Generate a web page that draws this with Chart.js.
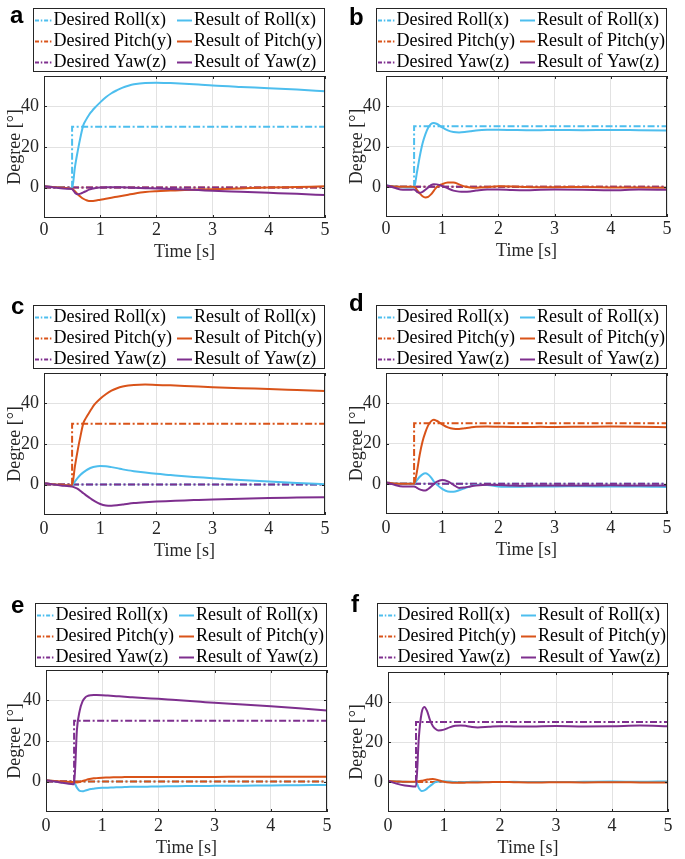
<!DOCTYPE html>
<html>
<head>
<meta charset="utf-8">
<script src="https://cdn.jsdelivr.net/npm/chart.js@4.4.0/dist/chart.umd.min.js"></script>
<style>
  body { margin: 0; background: #fff; width: 685px; height: 859px; overflow: hidden; position: relative; }
  canvas { position: absolute; }
</style>
</head>
<body>
<script>
// --- data ---
const axisNames = ['Roll(x)', 'Pitch(y)', 'Yaw(z)'];
const panelLetters = ['a', 'b', 'c', 'd', 'e', 'f'];
const stepAxis = [0, 0, 1, 1, 2, 2];   // which axis gets the 30 deg command

const xTicks = [0, 1, 2, 3, 4, 5];
const yTicks = [0, 20, 40];
const yMin = -15, yMax = 55;

// desired (step) signals
const tStep = [0, 0.5, 0.5, 5];
const stepOn = [0, 0, 30, 30];
const stepOff = [0, 0, 0, 0];

// sample times for the measured responses
const tRes = [0, 0.15, 0.3, 0.45, 0.5, 0.55, 0.6, 0.65, 0.7, 0.75, 0.8, 0.85, 0.9, 1.0, 1.1,
              1.2, 1.3, 1.4, 1.5, 1.6, 1.8, 2.0, 2.25, 2.5, 2.75, 3.0, 3.5, 4.0, 4.5, 5.0];

const rollA  = [0.7, 0.3, 0, -0.4, -0.5, 10, 18, 25, 30.8, 33.5, 35.8, 37.6, 39.2, 42, 44.5, 46.5, 48, 49.3, 50.2, 50.9, 51.6, 51.7, 51.5, 51.2, 50.8, 50.3, 49.6, 49, 48.3, 47.5];
const pitchA = [0.7, 0.3, 0, -0.4, -0.6, -1.8, -3.3, -4.5, -5.5, -6.2, -6.6, -6.6, -6.5, -6.0, -5.5, -5.0, -4.5, -4.0, -3.5, -3.0, -2.2, -1.8, -1.5, -1.2, -1.0, -0.8, -0.4, 0, 0.3, 0.6];
const yawA   = [0.7, 0.2, -0.3, -0.6, -0.8, -2.5, -3.3, -3.0, -2.4, -1.7, -1.0, -0.6, -0.3, 0, 0.1, 0.2, 0.2, 0.1, 0, -0.1, -0.3, -0.5, -0.7, -0.95, -1.25, -1.6, -2.1, -2.6, -3.1, -3.7];

const rollB  = [0.7, 0.2, -0.2, -0.3, -0.3, 7, 15, 21.5, 26, 29.3, 31.2, 31.7, 31.3, 29.5, 28, 27.2, 27, 27.2, 27.6, 28, 28.3, 28.3, 28.2, 28.1, 28.1, 28.2, 28.1, 28.2, 28.1, 28];
const pitchB = [0.5, 0.2, 0, 0, 0, -1.5, -3.3, -4.7, -5.3, -5, -3.8, -2, -0.2, 1.3, 2.1, 2.1, 1.2, 0.1, -0.4, -0.5, -0.2, 0.3, 0.2, -0.1, -0.2, -0.2, -0.1, -0.3, -0.4, -0.5];
const yawB   = [0.8, -0.5, -1.5, -1.5, -1.3, -2.5, -3, -2.5, -1.5, -0.3, 0.8, 1.3, 1.2, 0.4, -0.8, -1.9, -2.4, -2.5, -2.3, -1.9, -1.3, -1.3, -1.6, -1.7, -1.5, -1.4, -1.5, -1.7, -1.4, -1.5];

const rollC  = [0.7, 0.2, -0.2, -0.4, -0.4, 1.5, 3.3, 4.8, 6, 7, 7.8, 8.4, 8.8, 9.1, 9.0, 8.6, 8.1, 7.5, 7, 6.6, 5.9, 5.3, 4.7, 4.1, 3.6, 3.1, 2.3, 1.5, 0.8, 0.2];
const pitchC = [0.7, 0.2, -0.1, -0.3, -0.3, 9, 17, 24, 30.3, 33, 35.3, 37.5, 39.5, 42.3, 44.5, 46.3, 47.5, 48.3, 48.8, 49.1, 49.3, 49.1, 48.9, 48.6, 48.3, 48, 47.5, 47.1, 46.6, 46.1];
const yawC   = [0.7, 0.1, -0.4, -0.8, -1, -1.5, -2.1, -3.2, -4.3, -5.3, -6.3, -7.3, -8.2, -9.6, -10.3, -10.4, -10.2, -9.8, -9.4, -9.1, -8.7, -8.4, -8.1, -7.8, -7.6, -7.4, -7.0, -6.6, -6.4, -6.2];

const rollD  = [0.7, 0.2, 0, 0, 0, 1.8, 3.5, 4.7, 5.2, 4.6, 3.2, 1.2, -0.3, -2.5, -3.8, -3.9, -3.2, -2.2, -1.3, -0.6, -0.6, -1.3, -1.5, -1.4, -1.3, -1.3, -1.2, -1.4, -1.4, -1.6];
const pitchD = [0.7, 0.2, 0, 0, 0, 6, 14.5, 21, 25.5, 29, 31, 31.8, 31.3, 29.5, 28, 27.3, 27.2, 27.6, 28, 28.3, 28.4, 28.3, 28.2, 28.2, 28.3, 28.2, 28.3, 28.4, 28.3, 28.1];
const yawD   = [0.8, -0.5, -1.3, -1.3, -1.3, -2, -2.8, -3.2, -3.3, -2.6, -1.5, -0.2, 0.9, 1.9, 1.2, -0.5, -2.1, -1.8, -1.3, -0.9, -0.5, -0.6, -0.9, -1, -0.8, -0.8, -0.9, -0.7, -0.9, -0.9];

const rollE  = [0.7, 0.1, -0.4, -0.8, -0.6, -3, -4.6, -4.8, -4.4, -4, -3.7, -3.5, -3.3, -3.1, -3, -2.9, -2.8, -2.7, -2.6, -2.6, -2.5, -2.4, -2.3, -2.2, -2.2, -2.1, -2, -1.9, -1.8, -1.7];
const pitchE = [0.7, 0.3, 0, -0.2, -0.3, -0.4, -0.2, 0.3, 0.7, 1.1, 1.4, 1.6, 1.7, 1.9, 2.0, 2.1, 2.1, 2.2, 2.2, 2.2, 2.2, 2.3, 2.3, 2.3, 2.3, 2.3, 2.4, 2.4, 2.4, 2.4];
const yawE   = [0.7, 0, -0.6, -1.2, -1.3, 25.5, 35, 39.5, 41.5, 42.3, 42.6, 42.7, 42.7, 42.6, 42.4, 42.2, 42, 41.8, 41.6, 41.4, 41.1, 40.8, 40.3, 39.8, 39.3, 38.8, 38, 37.1, 36.1, 35];

const rollF  = [0.5, 0.3, 0.1, 0, 0, -3, -4.5, -4.2, -3.2, -2, -0.9, -0.1, 0.3, 0.4, 0.2, 0, -0.1, 0, 0.1, 0.1, 0, 0, 0.1, 0, 0, 0, 0.1, 0.2, 0.1, 0.3];
const pitchF = [0.5, 0.3, 0.1, 0.1, 0.2, 0.4, 0.6, 0.9, 1.2, 1.4, 1.5, 1.3, 0.9, 0.1, -0.3, -0.4, -0.4, -0.3, -0.2, -0.2, -0.1, 0, -0.1, -0.2, -0.2, -0.1, -0.2, -0.1, -0.2, -0.3];
const yawF   = [0.5, -0.8, -1.8, -2.2, -2.2, 22, 34.5, 37.5, 35.3, 31, 28, 26.5, 25.8, 26.2, 27.3, 28.1, 28.3, 28, 27.5, 27.3, 27.6, 27.9, 27.8, 27.7, 27.9, 28, 27.8, 27.9, 28.2, 27.9];

const results = [
  [rollA, pitchA, yawA], [rollB, pitchB, yawB],
  [rollC, pitchC, yawC], [rollD, pitchD, yawD],
  [rollE, pitchE, yawE], [rollF, pitchF, yawF]
];

// --- look ---
const FONT = '"Liberation Serif", "Times New Roman", serif';
const INK = '#262626';
const colors = ['#4DBEEE', '#D95319', '#7E2F8E'];
const dashDot = [7, 2.5, 2, 2.5];
const W = 343;

// page geometry of each panel: canvas origin, plot box, legend box, letter
const layout = [
  { ox: 0,   oy: 0,   H: 290, L: 44,  T: 76,  R: 325, B: 218, leg: [33, 8, 325, 72],    letter: [10, 23],   tickPad: 1.5, titlePad: -1.5 },
  { ox: 342, oy: 0,   H: 290, L: 386, T: 76,  R: 667, B: 217, leg: [376, 8, 667, 72],   letter: [349, 25],  tickPad: 1.5, titlePad: -1.5 },
  { ox: 0,   oy: 290, H: 300, L: 44,  T: 373, R: 325, B: 515, leg: [33, 305, 325, 369], letter: [11, 314],  tickPad: 3, titlePad: -3 },
  { ox: 342, oy: 290, H: 300, L: 386, T: 373, R: 667, B: 514, leg: [376, 305, 667, 369], letter: [349, 311], tickPad: 3, titlePad: -3 },
  { ox: 0,   oy: 590, H: 269, L: 46,  T: 670, R: 327, B: 812, leg: [35, 603, 327, 667], letter: [11, 613],  tickPad: 3, titlePad: -3 },
  { ox: 342, oy: 590, H: 269, L: 388, T: 672, R: 668, B: 812, leg: [377, 603, 668, 667], letter: [351, 612], tickPad: 3, titlePad: -3 }
];

function buildDatasets(n) {
  const ds = [];
  for (let k = 0; k < 3; k++) {
    const vals = stepAxis[n] === k ? stepOn : stepOff;
    ds.push({
      label: 'Desired ' + axisNames[k],
      data: tStep.map((t, i) => ({ x: t, y: vals[i] })),
      borderColor: colors[k],
      borderWidth: 2,
      borderDash: dashDot,
      tension: 0,
      pointRadius: 0
    });
  }
  for (let k = 0; k < 3; k++) {
    ds.push({
      label: 'Result of ' + axisNames[k],
      data: tRes.map((t, i) => ({ x: t, y: results[n][k][i] })),
      borderColor: colors[k],
      borderWidth: 2,
      cubicInterpolationMode: 'monotone',
      pointRadius: 0
    });
  }
  // later series drawn on top, like the original plot order
  ds.forEach((d, i) => { d.order = ds.length - i; });
  return ds;
}

function framePlugin(p, n) {
  return {
    id: 'frame' + n,
    afterDraw(chart) {
      const ctx = chart.ctx;
      const { left, right, top, bottom } = chart.chartArea;
      const sx = chart.scales.x, sy = chart.scales.y;
      ctx.save();
      ctx.setLineDash([]);
      ctx.strokeStyle = INK;
      ctx.lineWidth = 1;
      ctx.beginPath();
      xTicks.forEach(v => {
        const x = Math.round(sx.getPixelForValue(v)) + 0.5;
        ctx.moveTo(x, bottom); ctx.lineTo(x, bottom - 3);
        ctx.moveTo(x, top); ctx.lineTo(x, top + 3);
      });
      yTicks.forEach(v => {
        const y = Math.round(sy.getPixelForValue(v)) + 0.5;
        ctx.moveTo(left, y); ctx.lineTo(left + 3, y);
        ctx.moveTo(right, y); ctx.lineTo(right - 3, y);
      });
      ctx.stroke();
      ctx.strokeRect(left + 0.5, top + 0.5, right - left - 1, bottom - top - 1);

      // legend box, 3 rows x 2 columns
      const lx = p.leg[0] - p.ox, ly = p.leg[1] - p.oy;
      const lw = p.leg[2] - p.leg[0], lh = p.leg[3] - p.leg[1];
      ctx.fillStyle = '#fff';
      ctx.fillRect(lx, ly, lw, lh);
      ctx.strokeRect(lx + 0.5, ly + 0.5, lw - 1, lh - 1);
      ctx.font = '18px ' + FONT;
      ctx.textBaseline = 'middle';
      ctx.textAlign = 'left';
      const ds = chart.data.datasets;
      for (let k = 0; k < 3; k++) {
        const y = ly + 12.5 + 21 * k;
        [[ds[k], 2, 19.5, 20.5, [4, 1.8, 1.5, 1.8]], [ds[k + 3], 144, 159, 161, []]].forEach(([d, x0, x1, tx, dash]) => {
          ctx.strokeStyle = d.borderColor;
          ctx.lineWidth = d.borderWidth;
          ctx.setLineDash(dash);
          ctx.beginPath();
          ctx.moveTo(lx + x0, y); ctx.lineTo(lx + x1, y);
          ctx.stroke();
          ctx.fillStyle = '#000';
          ctx.fillText(d.label, lx + tx, y);
        });
      }
      ctx.setLineDash([]);

      // panel letter
      ctx.font = 'bold 24px "Liberation Sans", Arial, sans-serif';
      ctx.textBaseline = 'alphabetic';
      ctx.fillStyle = '#000';
      ctx.fillText(panelLetters[n], p.letter[0] - p.ox, p.letter[1] - p.oy);
      ctx.restore();
    }
  };
}

layout.forEach((p, n) => {
  const cv = document.createElement('canvas');
  cv.width = W; cv.height = p.H;
  cv.style.left = p.ox + 'px'; cv.style.top = p.oy + 'px';
  cv.style.width = W + 'px'; cv.style.height = p.H + 'px';
  document.body.appendChild(cv);

  const xh = 44;
  const tickFont = { family: FONT, size: 18 };
  new Chart(cv, {
    type: 'line',
    data: { datasets: buildDatasets(n) },
    options: {
      responsive: false,
      animation: false,
      devicePixelRatio: 1,
      layout: {
        padding: {
          left: 0,
          top: p.T - p.oy,
          right: W - (p.R - p.ox),
          bottom: p.H - (p.B - p.oy) - xh
        }
      },
      plugins: { legend: { display: false }, tooltip: { enabled: false } },
      scales: {
        x: {
          type: 'linear', min: 0, max: 5,
          afterBuildTicks: s => { s.ticks = xTicks.map(v => ({ value: v })); },
          afterFit: s => { s.height = xh; },
          grid: { color: '#e2e2e2', drawTicks: false },
          border: { display: false },
          ticks: { padding: p.tickPad, color: INK, font: tickFont, maxRotation: 0, autoSkip: false },
          title: { display: true, text: 'Time [s]', color: INK, font: tickFont, padding: { top: 0, bottom: p.titlePad } }
        },
        y: {
          type: 'linear', min: yMin, max: yMax,
          afterBuildTicks: s => { s.ticks = yTicks.map(v => ({ value: v })); },
          afterFit: s => { s.width = p.L - p.ox; },
          grid: { color: '#e2e2e2', drawTicks: false },
          border: { display: false },
          ticks: { padding: 5, color: INK, font: tickFont },
          title: { display: true, text: 'Degree [°]', color: INK, font: tickFont, padding: { top: 4.5, bottom: 0 } }
        }
      }
    },
    plugins: [framePlugin(p, n)]
  });
});
</script>
</body>
</html>
